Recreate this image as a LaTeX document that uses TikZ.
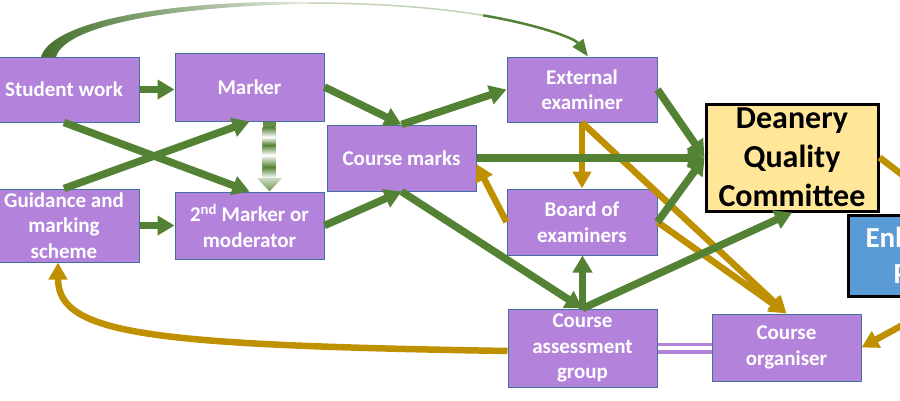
\documentclass[tikz,border=0pt]{standalone}
\usepackage{fontspec}
\setmainfont{Carlito}
\usetikzlibrary{arrows.meta,calc}
\definecolor{purp}{HTML}{B383DB}
\definecolor{pborder}{HTML}{41719C}
\definecolor{gcol}{HTML}{548235}
\definecolor{gdark}{HTML}{44702B}
\definecolor{goldc}{HTML}{BF9000}
\definecolor{yel}{HTML}{FFE699}
\definecolor{blu}{HTML}{5B9BD5}
\begin{document}
\begin{tikzpicture}[x=1pt,y=-1pt,
 pbox/.style={draw=pborder, line width=1pt, fill=purp, text=white, font=\bfseries\fontsize{21}{25.5}\selectfont, align=center, inner sep=0pt, minimum width=149pt},
 garr/.style={draw=gcol, line width=7.5pt, -{Triangle[length=17pt,width=19pt]}},
 oarr/.style={draw=goldc, line width=6.5pt, -{Triangle[length=17pt,width=18pt]}},
 bigbox/.style={draw=black, line width=3pt, inner sep=0pt, font=\bfseries\fontsize{32}{39}\selectfont, align=center},
]
\useasboundingbox (0,0) rectangle (900,400);

% boxes
\node[pbox, minimum width=150pt, minimum height=65pt] (sw) at (64,89.5) {Student work};
\node[pbox, minimum width=150pt, minimum height=73pt] (gd) at (64,225.5) {Guidance and\\marking\\scheme};
\node[pbox, minimum height=68pt] (mk) at (249.5,87) {Marker};
\node[pbox, minimum height=67pt] (m2) at (249.5,225.5) {2\textsuperscript{nd} Marker or\\moderator};
\node[pbox, minimum height=66pt] (cm) at (401.5,158) {Course marks};
\node[pbox, minimum width=150pt, minimum height=65pt] (ee) at (582,89.5) {External\\examiner};
\node[pbox, minimum width=150pt, minimum height=66pt] (be) at (582,222) {Board of\\examiners};
\node[pbox, minimum height=78pt] (cag) at (582.5,348) {Course\\assessment\\group};
\node[pbox, minimum height=67pt] (co) at (786.5,347.5) {Course\\organiser};
\node[bigbox, fill=yel, text=black, minimum width=172pt, minimum height=107pt] (dqc) at (792,157.5) {Deanery\\Quality\\Committee};
\node[bigbox, fill=blu, text=white, anchor=west, text width=175pt, align=left, inner xsep=17pt, minimum height=81pt, font=\bfseries\fontsize{29}{36}\selectfont] (enh) at (847,255.5) {Enhancement\\\hspace*{28pt}Panel};

% double line
\draw[purp, line width=11pt] (cag.east) -- (cag.east -| co.west);
\draw[white, line width=4pt] (cag.east) -- (cag.east -| co.west);

% gold arrows
\draw[oarr] (ee.south) -- (be.north);
\draw[oarr] (be.west) -- ($(cm.east)+(0,6)$);
\draw[oarr] (ee.south) -- (co.north);
\draw[oarr] (be.east) -- (co.north);
\draw[oarr] (dqc.east) -- (enh.north);
\draw[oarr] (enh.south) -- (co.east);
\draw[oarr] ($(cag.west)+(0,3)$) .. controls (150,345) and (58,335) .. ($(gd.south)+(-6,0)$);

% green arrows
\draw[garr] (sw.east) -- (sw.east -| mk.west);
\draw[garr] (gd.east) -- (gd.east -| m2.west);
\draw[garr] (sw.south) -- (m2.north);
\draw[garr] (gd.north) -- (mk.south);
\draw[garr] (mk.east) -- (cm.north);
\draw[garr] (m2.east) -- (cm.south);
\draw[garr] (cm.north) -- (ee.west);
\draw[garr] (cm.east) -- (cm.east -| dqc.west);
\draw[garr] (cm.south) -- (cag.north);
\draw[garr] (cag.north) -- (cag.north |- be.south);
\draw[garr] (cag.north) -- (dqc.south);
\draw[garr] (ee.east) -- (dqc.west);
\draw[garr] (be.east) -- (dqc.west);

% gradient striped arrow marker -> 2nd marker
\fill[gcol!90] (262.5,121.5) rectangle (275.5,127);
\shade[top color=gcol, bottom color=white] (262.5,127) rectangle (275.5,137);
\shade[top color=white, bottom color=gcol] (262.5,137) rectangle (275.5,145);
\shade[top color=gcol, bottom color=white] (262.5,145) rectangle (275.5,155);
\shade[top color=white, bottom color=gcol] (262.5,155) rectangle (275.5,167);
\shade[top color=gcol, bottom color=white] (262.5,167) rectangle (275.5,178);
\shade[top color=gcol!30, bottom color=gcol!85] (257,178) -- (282,178) -- (269.5,191.5) -- cycle;

% top tapered curve student work -> external examiner
\shade[left color=gdark, middle color=gcol!80, right color=gcol!15] (41,57) .. controls (52,19) and (180,0) .. (308,2) -- (308,4) .. controls (184,6) and (66,23) .. (56,57) -- cycle;
\draw[gcol!35, line width=1.5pt] (308,3) .. controls (369,3) and (432,6.75) .. (483.25,15.4);
\draw[gcol, line width=2.5pt, -{Triangle[length=17pt,width=13pt]}] (483.25,15.4) .. controls (534.5,24) and (574,37.5) .. ($(ee.north)+(6,0)$);
\end{tikzpicture}
\end{document}
